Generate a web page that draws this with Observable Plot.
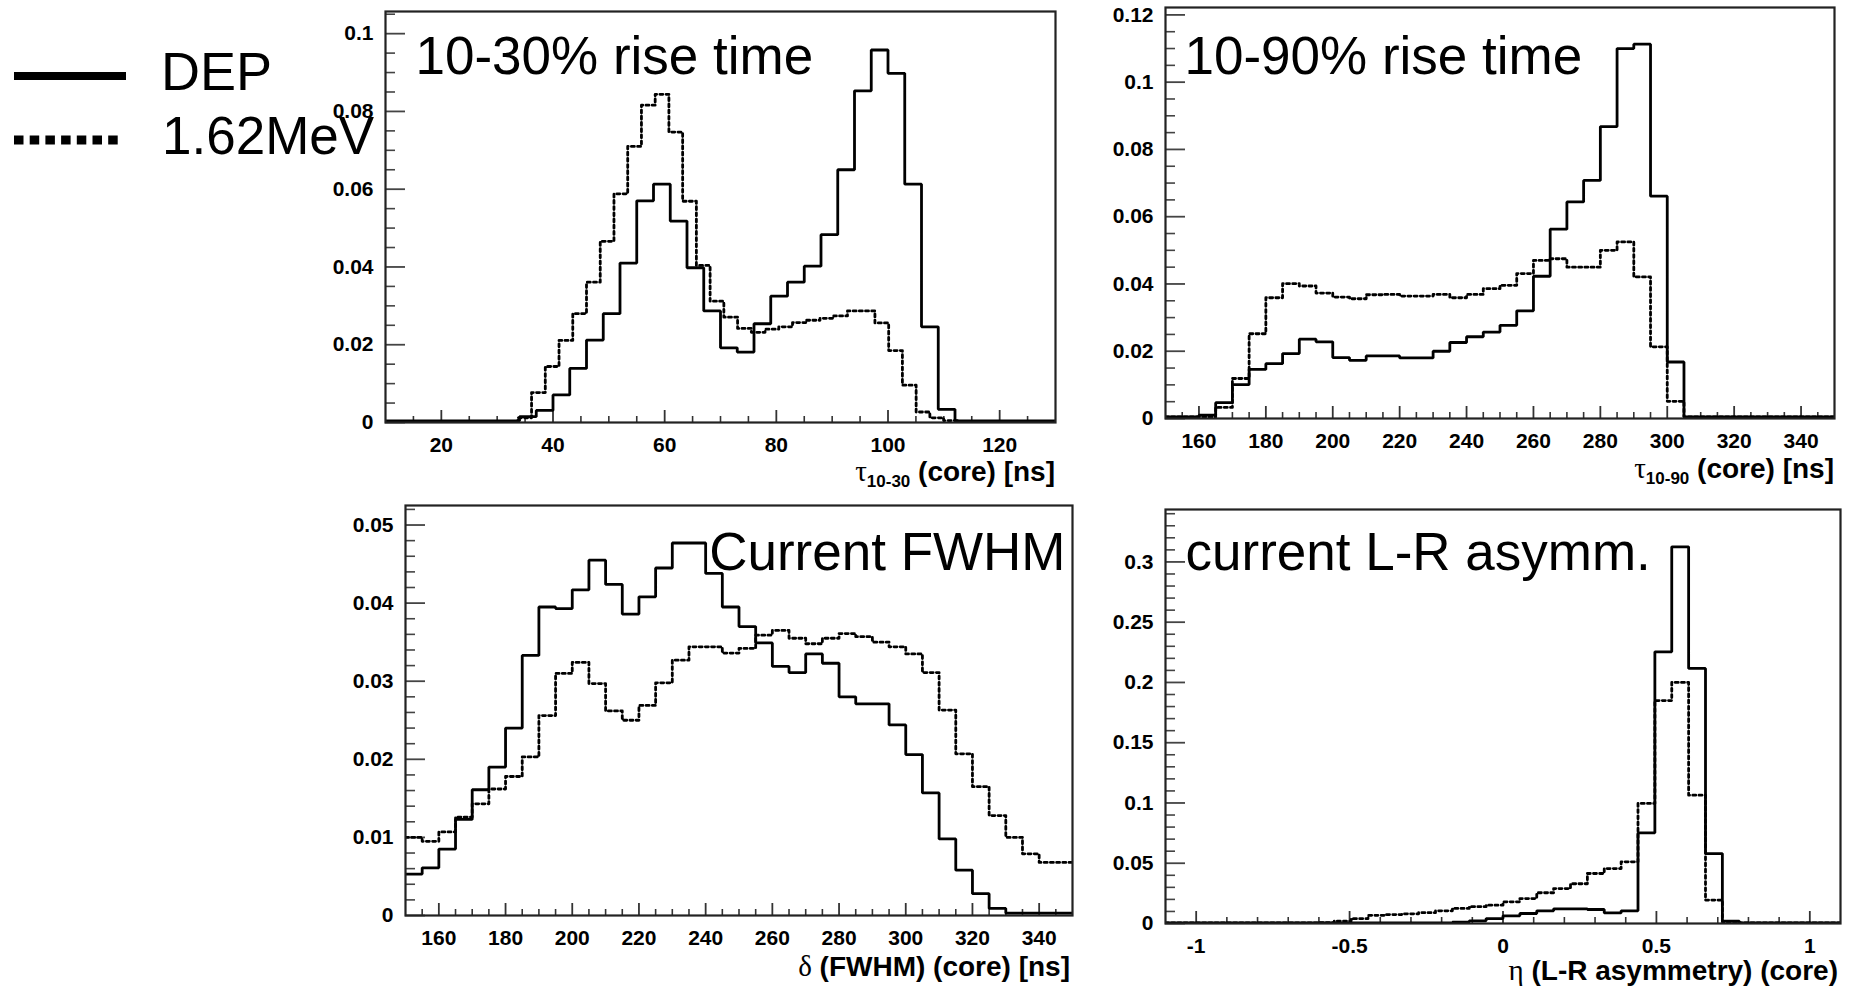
<!DOCTYPE html>
<html><head><meta charset="utf-8">
<script src="https://cdn.jsdelivr.net/npm/d3@7"></script>
<script src="https://cdn.jsdelivr.net/npm/@observablehq/plot@0.6"></script>
<style>
html,body{margin:0;padding:0;background:#fff;}
#page{position:relative;width:1850px;height:994px;overflow:hidden;background:#fff;font-family:"Liberation Sans",Arial,Helvetica,sans-serif;}
.panel{position:absolute;}
#overlay{position:absolute;left:0;top:0;pointer-events:none;}
</style></head><body><div id="page"></div>
<script>
// ---------------- data ----------------
const seriesNames = ["DEP", "1.62MeV"];
const panelTitles = ["10-30% rise time", "10-90% rise time", "Current FWHM", "current L-R asymm."];

// Panel 1: 10-30% rise time (DEP binned 3 ns, 1.62MeV binned ~2.46 ns)
const rise1030DepEdges = [10,13,16,19,22,25,28,31,34,37,40,43,46,49,52,55,58,61,64,67,70,73,76,79,82,85,88,91,94,97,100,103,106,109,112,115,118,121,124,127];
const rise1030DepValues = [0.0004,0.0004,0.0004,0.0004,0.0004,0.0004,0.0004,0.0004,0.0015,0.0031,0.0071,0.0139,0.0212,0.028,0.041,0.057,0.0613,0.0518,0.0398,0.0287,0.0192,0.0181,0.0254,0.0325,0.0361,0.0402,0.0483,0.065,0.0853,0.0958,0.0898,0.0613,0.0246,0.0034,0.0004,0.0004,0.0004,0.0004,0.0004,0.0004];
const rise1030BgEdges = [10,33.7,36.16,38.62,41.08,43.54,46,48.46,50.92,53.38,55.84,58.3,60.76,63.22,65.68,68.14,70.6,73.06,75.52,77.98,80.44,82.9,85.36,87.82,90.28,92.74,95.2,97.66,100.12,102.58,105.04,107.5,109.96,112.42];
const rise1030BgValues = [0.0003,0.0012,0.0077,0.0144,0.0211,0.028,0.0361,0.0466,0.0588,0.071,0.0816,0.0844,0.0747,0.0569,0.0404,0.0312,0.0271,0.0242,0.0232,0.024,0.0246,0.0257,0.0263,0.0268,0.0274,0.0287,0.0287,0.0256,0.0185,0.0096,0.0027,0.0012,0.0005,0.0003];

// Panel 2: 10-90% rise time
const rise1090Edges = [150,155,160,165,170,175,180,185,190,195,200,205,210,215,220,225,230,235,240,245,250,255,260,265,270,275,280,285,290,295,300,305,310,315,320,325,330,335,340,345];
const rise1090DepValues = [0.0005,0.0005,0.001,0.0047,0.0101,0.0146,0.0163,0.0193,0.0236,0.0228,0.0181,0.0173,0.0186,0.0186,0.018,0.018,0.02,0.0226,0.0243,0.0257,0.0277,0.032,0.0423,0.0563,0.0644,0.0708,0.0868,0.110,0.1113,0.0661,0.0168,0.0005,0.0005,0.0005,0.0005,0.0005,0.0005,0.0005,0.0005,0.0005];
const rise1090BgValues = [0.0005,0.0005,0.0005,0.0033,0.0119,0.0252,0.0359,0.0401,0.0394,0.0373,0.0361,0.0356,0.0368,0.0369,0.0364,0.0364,0.0369,0.0359,0.0369,0.0386,0.0396,0.0431,0.047,0.0475,0.045,0.045,0.05,0.0525,0.0421,0.0213,0.0051,0.0005,0.0005,0.0005,0.0005,0.0005,0.0005,0.0005,0.0005,0.0005];

// Panel 3: current FWHM
const fwhmEdges = [150,155,160,165,170,175,180,185,190,195,200,205,210,215,220,225,230,235,240,245,250,255,260,265,270,275,280,285,290,295,300,305,310,315,320,325,330,335,340,345];
const fwhmDepValues = [0.0053,0.0061,0.0085,0.0123,0.0161,0.019,0.024,0.0333,0.0395,0.0393,0.0417,0.0455,0.0424,0.0386,0.0408,0.0445,0.0477,0.0477,0.0438,0.0395,0.037,0.0349,0.0319,0.0311,0.0335,0.0323,0.028,0.0271,0.0271,0.0244,0.0206,0.0157,0.0098,0.0058,0.0028,0.0009,0.0003,0.0003,0.0003,0.0003];
const fwhmBgValues = [0.01,0.0095,0.0107,0.0126,0.0143,0.0162,0.0178,0.0203,0.0256,0.031,0.0324,0.0297,0.0262,0.025,0.0269,0.0298,0.0327,0.0344,0.0344,0.0336,0.0342,0.0359,0.0365,0.0355,0.0348,0.0355,0.0361,0.0357,0.035,0.0344,0.0335,0.0311,0.0263,0.0207,0.0165,0.0128,0.01,0.0079,0.0068,0.0068];

// Panel 4: current L-R asymmetry
const asymEdges = [-1.1,-1.045,-0.99,-0.935,-0.88,-0.825,-0.77,-0.715,-0.66,-0.605,-0.55,-0.495,-0.44,-0.385,-0.33,-0.275,-0.22,-0.165,-0.11,-0.055,0,0.055,0.11,0.165,0.22,0.275,0.33,0.385,0.44,0.495,0.55,0.605,0.66,0.715,0.77,0.825,0.88,0.935,0.99,1.045];
const asymDepValues = [0.0006,0.0006,0.0006,0.0006,0.0006,0.0006,0.0006,0.0006,0.0006,0.0006,0.0006,0.0006,0.0006,0.0006,0.0006,0.0006,0.0006,0.0011,0.0022,0.0041,0.0064,0.0083,0.0105,0.0122,0.0122,0.0116,0.0088,0.0105,0.0752,0.2254,0.3125,0.2116,0.058,0.002,0.0006,0.0006,0.0006,0.0006,0.0006,0.0006];
const asymBgValues = [0.0005,0.0005,0.0005,0.0005,0.0005,0.0005,0.0005,0.0005,0.0005,0.0008,0.002,0.004,0.0068,0.0074,0.008,0.009,0.0105,0.0125,0.014,0.0152,0.018,0.0207,0.0255,0.029,0.033,0.0415,0.0456,0.0512,0.0996,0.185,0.2,0.1065,0.0194,0.0014,0.0005,0.0005,0.0005,0.0005,0.0005,0.0005];

// axis ticks
const rise1030XTicks = [20,40,60,80,100,120];
const rise1030YTicks = [0,0.02,0.04,0.06,0.08,0.1];
const rise1090XTicks = [160,180,200,220,240,260,280,300,320,340];
const rise1090YTicks = [0,0.02,0.04,0.06,0.08,0.1,0.12];
const fwhmXTicks = [160,180,200,220,240,260,280,300,320,340];
const fwhmYTicks = [0,0.01,0.02,0.03,0.04,0.05];
const asymXTicks = [-1,-0.5,0,0.5,1];
const asymYTicks = [0,0.05,0.1,0.15,0.2,0.25,0.3];

const axisTitles = [
  {sym: "τ", sub: "10-30", rest: " (core) [ns]"},
  {sym: "τ", sub: "10-90", rest: " (core) [ns]"},
  {sym: "δ", sub: "", rest: " (FWHM) (core) [ns]"},
  {sym: "η", sub: "", rest: " (L-R asymmetry) (core)"}
];

// ---------------- drawing ----------------
const FONT = "'Liberation Sans', Arial, Helvetica, sans-serif";
const fmt = d => String(Math.round(d * 10000) / 10000);
const page = document.getElementById("page");

function minors(lo, hi, step, majors) {
  return d3.range(Math.round(lo / step), Math.round(hi / step) + 1)
    .map(i => Math.round(i * step * 10000) / 10000)
    .filter(v => v > lo && v < hi && !majors.some(m => Math.abs(m - v) < 1e-9));
}
function steps(edges, values, xmax) {
  const pts = edges.map((e, i) => ({x: e, y: values[i]}));
  pts.push({x: xmax, y: values[values.length - 1]});
  return pts;
}

function panel(cfg) {
  const fw = cfg.right - cfg.left, fh = cfg.bottom - cfg.top;
  const mL = 90, mR = 20, mT = 10, mB = 60;
  const xMinor = minors(cfg.xDomain[0], cfg.xDomain[1], cfg.xMinorStep, cfg.xTicks);
  const yMinor = minors(cfg.yDomain[0], cfg.yDomain[1], cfg.yMinorStep, cfg.yTicks).filter(v => v > 0);
  const chart = Plot.plot({
    width: fw + mL + mR, height: fh + mT + mB,
    marginLeft: mL, marginRight: mR, marginTop: mT, marginBottom: mB,
    style: {background: "transparent", overflow: "visible", maxWidth: "none", fontFamily: FONT, color: "#000"},
    x: {domain: cfg.xDomain, axis: null},
    y: {domain: cfg.yDomain, axis: null},
    marks: [
      Plot.tickX(xMinor, {insetTop: fh - 6, stroke: "#333", strokeWidth: 1.6}),
      Plot.tickX(cfg.xTicks, {insetTop: fh - 12, stroke: "#333", strokeWidth: 1.8}),
      Plot.tickY(yMinor, {insetRight: fw - 10, stroke: "#444", strokeWidth: 1.6}),
      Plot.tickY(cfg.yTicks, {insetRight: fw - 20, stroke: "#444", strokeWidth: 1.8}),
      Plot.axisX(cfg.xTicks, {tickSize: 0, tickPadding: 15, fontSize: 21, fontWeight: "bold", tickFormat: fmt, label: null, fill: "#000"}),
      Plot.axisY(cfg.yTicks, {tickSize: 0, tickPadding: 12, fontSize: 21, fontWeight: "bold", tickFormat: fmt, label: null, fill: "#000"}),
      Plot.line(steps(cfg.bgEdges, cfg.bgValues, cfg.xDomain[1]), {x: "x", y: "y", curve: "step-after", stroke: "#000", strokeWidth: 2.8, strokeDasharray: "3,3.2", clip: true}),
      Plot.line(steps(cfg.depEdges, cfg.depValues, cfg.xDomain[1]), {x: "x", y: "y", curve: "step-after", stroke: "#000", strokeWidth: 2.8, strokeLinejoin: "miter", clip: true}),
      Plot.frame({stroke: "#222", strokeWidth: 2.2}),
      Plot.text([cfg.title], {text: d => d, frameAnchor: cfg.titleAnchor, textAnchor: cfg.titleAnchor === "top-right" ? "end" : "start", lineAnchor: "top", dx: cfg.titleDx, dy: cfg.titleDy, fontSize: 53, fill: "#000", fontFamily: FONT})
    ]
  });
  const wrap = document.createElement("div");
  wrap.className = "panel";
  wrap.style.left = (cfg.left - mL) + "px";
  wrap.style.top = (cfg.top - mT) + "px";
  wrap.appendChild(chart);
  page.appendChild(wrap);
}

panel({left: 385, right: 1055, top: 11, bottom: 422, xDomain: [10, 130], yDomain: [0, 0.1057],
  xTicks: rise1030XTicks, yTicks: rise1030YTicks, xMinorStep: 5, yMinorStep: 0.005,
  depEdges: rise1030DepEdges, depValues: rise1030DepValues, bgEdges: rise1030BgEdges, bgValues: rise1030BgValues,
  title: panelTitles[0], titleAnchor: "top-left", titleDx: 30, titleDy: 25});
panel({left: 1165, right: 1834, top: 7, bottom: 418, xDomain: [150, 350], yDomain: [0, 0.1222],
  xTicks: rise1090XTicks, yTicks: rise1090YTicks, xMinorStep: 5, yMinorStep: 0.005,
  depEdges: rise1090Edges, depValues: rise1090DepValues, bgEdges: rise1090Edges, bgValues: rise1090BgValues,
  title: panelTitles[1], titleAnchor: "top-left", titleDx: 19, titleDy: 29});
panel({left: 405, right: 1072, top: 505, bottom: 915, xDomain: [150, 350], yDomain: [0, 0.0525],
  xTicks: fwhmXTicks, yTicks: fwhmYTicks, xMinorStep: 5, yMinorStep: 0.002,
  depEdges: fwhmEdges, depValues: fwhmDepValues, bgEdges: fwhmEdges, bgValues: fwhmBgValues,
  title: panelTitles[2], titleAnchor: "top-right", titleDx: -7, titleDy: 27});
panel({left: 1165, right: 1840, top: 509, bottom: 923, xDomain: [-1.1, 1.1], yDomain: [0, 0.3435],
  xTicks: asymXTicks, yTicks: asymYTicks, xMinorStep: 0.1, yMinorStep: 0.01,
  depEdges: asymEdges, depValues: asymDepValues, bgEdges: asymEdges, bgValues: asymBgValues,
  title: panelTitles[3], titleAnchor: "top-left", titleDx: 20, titleDy: 23});

// overlay: legend + axis titles
const ov = d3.select("#page").append("svg").attr("id", "overlay").attr("width", 1850).attr("height", 994);
ov.append("line").attr("x1", 14).attr("x2", 126).attr("y1", 76).attr("y2", 76).attr("stroke", "#000").attr("stroke-width", 8);
ov.append("line").attr("x1", 14).attr("x2", 118).attr("y1", 140).attr("y2", 140).attr("stroke", "#000").attr("stroke-width", 9).attr("stroke-dasharray", "9.5,6.2");
ov.append("text").attr("x", 161).attr("y", 90).attr("font-family", FONT).attr("font-size", 54).text(seriesNames[0]);
ov.append("text").attr("x", 162).attr("y", 154).attr("font-family", FONT).attr("font-size", 53).text(seriesNames[1]);

function axisTitle(x, y, t) {
  const el = ov.append("text").attr("x", x).attr("y", y).attr("text-anchor", "end")
    .attr("font-family", FONT).attr("font-weight", "bold").attr("font-size", 28);
  el.append("tspan").attr("font-family", "'Liberation Serif', 'Times New Roman', serif").attr("font-weight", "normal").attr("font-size", 29).text(t.sym);
  if (t.sub) {
    el.append("tspan").attr("font-size", 17).attr("dy", 6).text(t.sub);
    el.append("tspan").attr("dy", -6).text(t.rest);
  } else {
    el.append("tspan").text(t.rest);
  }
}
axisTitle(1055, 481, axisTitles[0]);
axisTitle(1834, 478, axisTitles[1]);
axisTitle(1070, 976, axisTitles[2]);
axisTitle(1838, 980, axisTitles[3]);
</script></body></html>
